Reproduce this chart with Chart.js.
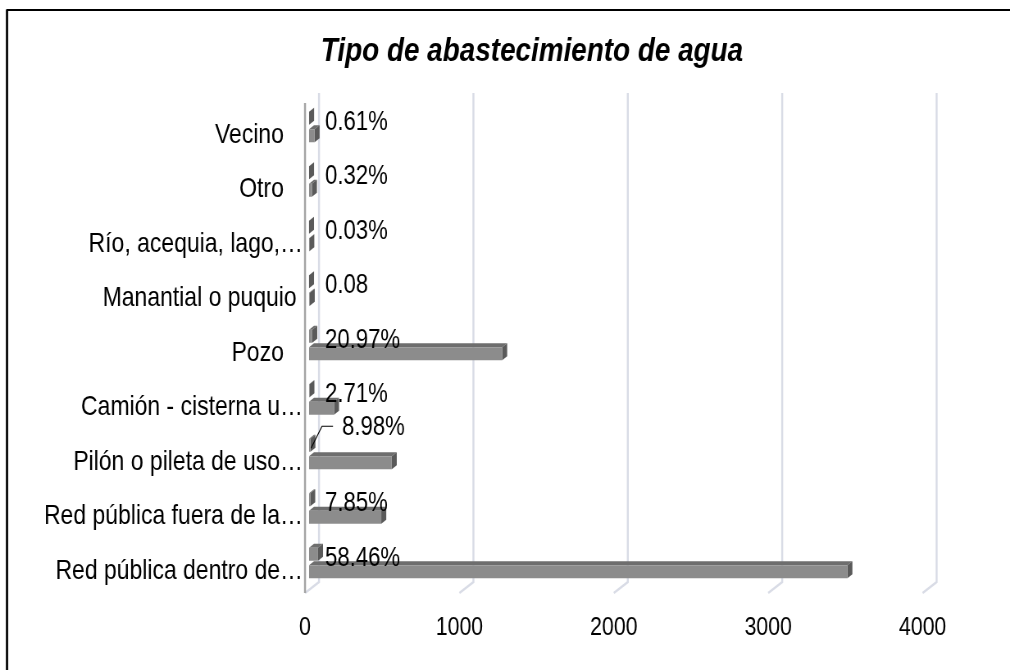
<!DOCTYPE html>
<html><head><meta charset="utf-8">
<script src="https://cdn.jsdelivr.net/npm/chart.js@4.4.1/dist/chart.umd.min.js"></script>
<style>html,body{margin:0;padding:0;background:#fff;overflow:hidden}#wrap{width:1010px;height:670px;position:relative}
#c{width:1010px;height:670px;display:block}</style>
</head><body><div id="wrap"><canvas id="c" width="1232" height="670" style="width:1010px;height:670px"></canvas></div>
<script>
const categories = ["Vecino","Otro","Río, acequia, lago,…","Manantial o puquio","Pozo","Camión - cisterna u…","Pilón o pileta de uso…","Red pública fuera de la…","Red pública dentro de…"];
const percentValues = [0.61,0.32,0.03,0.08,20.97,2.71,8.98,7.85,58.46];
const householdCounts = [36,19,2,5,1251,162,536,468,3487];
const percentLabels = ["0.61%","0.32%","0.03%","0.08","20.97%","2.71%","8.98%","7.85%","58.46%"];
const xTicks = [0,1000,2000,3000,4000];
const chartTitle = "Tipo de abastecimiento de agua";

// canvas is drawn 1232 wide and shown 1010 wide (narrow type look)
const S = 1010 / 1232;
const X = v => v / S;            // screen px -> canvas px (horizontal)
const FONT = "'Liberation Sans', Arial, sans-serif";
const DX = X(5), DY = 4;

const deco = {
  id: 'deco',
  beforeDraw(chart) {
    const ctx = chart.ctx;
    ctx.save();
    ctx.fillStyle = '#fff'; ctx.fillRect(0, 0, chart.width, chart.height);
    ctx.strokeStyle = '#000'; ctx.lineWidth = 2;
    ctx.beginPath();
    ctx.moveTo(chart.width + 5, 10); ctx.lineTo(X(7), 10); ctx.lineTo(X(7), chart.height + 5);
    ctx.stroke();
    ctx.fillStyle = '#000';
    ctx.fillRect(X(6), 10, X(2), chart.height);
    ctx.font = "italic bold 34px " + FONT;
    ctx.textAlign = 'center'; ctx.textBaseline = 'middle'; ctx.fillStyle = '#000';
    ctx.fillText(chartTitle, X(532), 52);
    ctx.restore();
  },
  beforeDatasetsDraw(chart) {
    const ctx = chart.ctx, xs = chart.scales.x;
    ctx.save();
    ctx.strokeStyle = '#d9dce6'; ctx.lineWidth = 2.4;
    xTicks.forEach(v => {
      const p = xs.getPixelForValue(v);
      ctx.beginPath();
      ctx.moveTo(p + X(10), 93); ctx.lineTo(p + X(10), 582); ctx.lineTo(p - X(4), 593);
      ctx.stroke();
    });
    const p0 = xs.getPixelForValue(0);
    ctx.strokeStyle = '#a3a3a3'; ctx.lineWidth = 2.4;
    ctx.beginPath(); ctx.moveTo(p0 - X(4), 103); ctx.lineTo(p0 - X(4), 593); ctx.stroke();
    // 3D faces of the bars
    chart.data.datasets.forEach((ds, di) => {
      const meta = chart.getDatasetMeta(di);
      meta.data.forEach(el => {
        const p = el.getProps(['x', 'y', 'base', 'height'], true);
        const l = Math.min(p.base, p.x), r = Math.max(p.base, p.x);
        const t = p.y - p.height / 2, b = p.y + p.height / 2;
        ctx.fillStyle = '#6e6e6e';
        ctx.beginPath(); ctx.moveTo(l, t); ctx.lineTo(r, t); ctx.lineTo(r + DX, t - DY); ctx.lineTo(l + DX, t - DY); ctx.closePath(); ctx.fill();
        ctx.fillStyle = '#5a5a5a';
        ctx.beginPath(); ctx.moveTo(r, t); ctx.lineTo(r + DX, t - DY); ctx.lineTo(r + DX, b - DY); ctx.lineTo(r, b); ctx.closePath(); ctx.fill();
      });
    });
    ctx.restore();
  },
  afterDatasetsDraw(chart) {
    const ctx = chart.ctx, xs = chart.scales.x;
    const meta = chart.getDatasetMeta(0);
    const lab = chart.options.plugins.deco;
    ctx.save();
    ctx.font = lab.fontSize + "px " + FONT;
    ctx.fillStyle = '#000'; ctx.textAlign = 'left'; ctx.textBaseline = 'middle';
    meta.data.forEach((el, i) => {
      const base = xs.getPixelForValue(0);
      const sh = lab.shift[i];
      let x = base + X(16), y = el.y + 4;
      if (sh) {
        ctx.strokeStyle = '#000'; ctx.lineWidth = 1.2;
        ctx.beginPath();
        ctx.moveTo(base + X(2), el.y + 3); ctx.lineTo(base + X(13), y + sh[1] - 1); ctx.lineTo(base + X(24), y + sh[1] - 1);
        ctx.stroke();
        x += X(sh[0]); y += sh[1];
      }
      ctx.fillText(percentLabels[i], x, y);
    });
    ctx.restore();
  }
};

const labelTrail = { 0: '   ', 1: '   ', 3: ' ', 4: '   ' };

new Chart(document.getElementById('c'), {
  type: 'bar',
  data: {
    labels: categories,
    datasets: [
      { label: 'Porcentaje', data: percentValues, backgroundColor: '#8c8c8c', borderWidth: 0,
        categoryPercentage: 0.642, barPercentage: 0.743 },
      { label: 'Viviendas', data: householdCounts, backgroundColor: '#8c8c8c', borderWidth: 0,
        categoryPercentage: 0.642, barPercentage: 0.743 }
    ]
  },
  options: {
    indexAxis: 'y',
    responsive: false,
    maintainAspectRatio: false,
    animation: false,
    devicePixelRatio: 1,
    layout: { padding: { top: 99.75, left: 0, right: 1232 - X(926.6), bottom: 19.75 } },
    plugins: {
      legend: { display: false },
      title: { display: false },
      tooltip: { enabled: false },
      deco: { fontSize: 27, shift: { 6: [17, -22] } }
    },
    scales: {
      x: {
        min: 0, max: 4000,
        afterBuildTicks(scale) { scale.ticks = xTicks.map(v => ({ value: v })); },
        afterFit(scale) { scale.height = 60; },
        grid: { display: false, drawTicks: false },
        border: { display: false },
        ticks: { color: '#000', font: { family: FONT, size: 26 }, padding: 22, labelOffset: X(-4), maxRotation: 0,
                 callback: v => String(v) }
      },
      y: {
        afterFit(scale) { scale.width = X(309); },
        grid: { display: false, drawTicks: false },
        border: { display: false },
        ticks: { color: '#000', font: { family: FONT, size: 28 }, padding: X(6), labelOffset: 8, autoSkip: false,
                 callback: function (v, i) { return this.getLabelForValue(v) + (labelTrail[i] || ''); } }
      }
    }
  },
  plugins: [deco]
});
</script>
</body></html>
